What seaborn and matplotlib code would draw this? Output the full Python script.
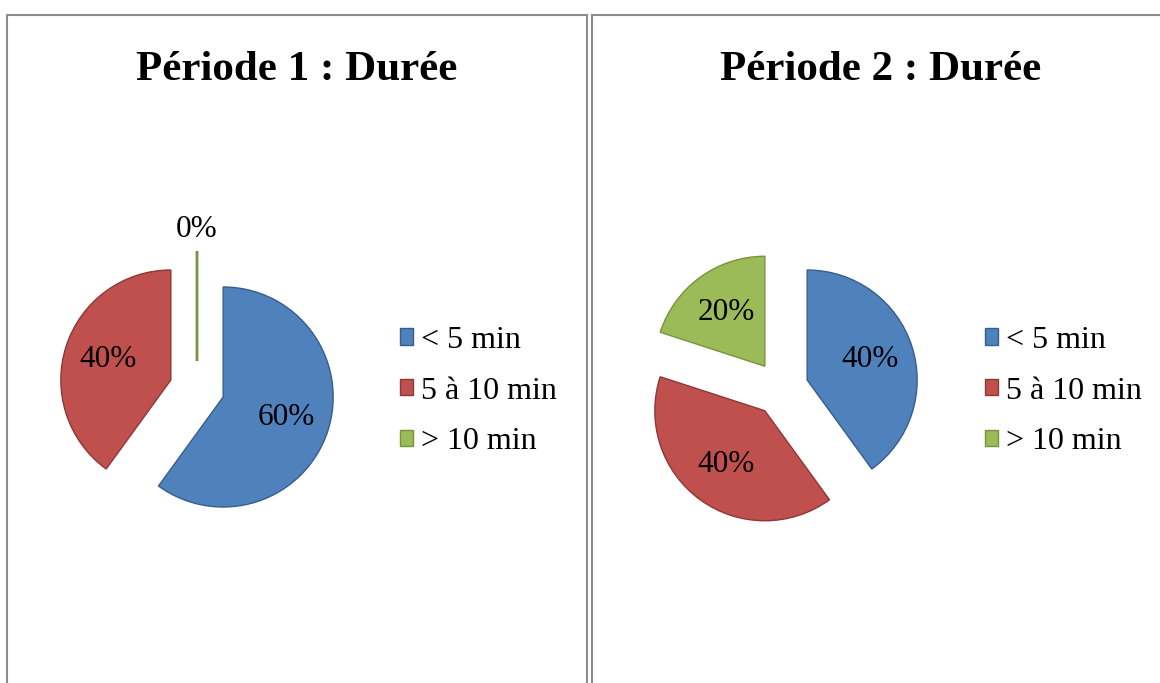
import matplotlib
matplotlib.use('Agg')
import matplotlib.pyplot as plt
from matplotlib.patches import Rectangle
import seaborn as sns

# -------------------------------------------------------
# data
# -------------------------------------------------------
categories = ['< 5 min', '5 à 10 min', '> 10 min']
periode1 = [60, 40, 0]
periode2 = [40, 40, 20]
titles = ['Période 1 : Durée', 'Période 2 : Durée']

sns.set_theme(style='white')
plt.rcParams['font.family'] = ['Liberation Serif', 'DejaVu Serif']
plt.rcParams['text.color'] = 'black'

face = sns.color_palette(['#4F81BD', '#C0504D', '#9BBB59'])
edge = sns.color_palette(['#385D8A', '#8C3836', '#77933C'])

W, H = 1160, 683
fig = plt.figure(figsize=(W / 100, H / 100), dpi=100)
fig.set_facecolor('white')

# panel frames (px): left, right
frames = [(7, 587), (592, 1175)]
for x0, x1 in frames:
    fig.patches.append(Rectangle((x0 / W, -0.05), (x1 - x0) / W, 1 - 15 / H + 0.05,
                                 transform=fig.transFigure, fill=False,
                                 edgecolor='#8c8c8c', linewidth=1.5))

centers = [197, 781]      # pie centre x (px)
cy = 388.5                # pie centre y (px, from top)
r = 110                   # radius in px
title_x = [297, 881]
legend_x = [400, 985]

for i, vals in enumerate([periode1, periode2]):
    half = 1.5 * r
    ax = fig.add_axes([(centers[i] - half) / W, (H - cy - half) / H, 2 * half / W, 2 * half / H])
    wedges, texts, autotexts = ax.pie(
        vals, startangle=90, counterclock=False, explode=[0.25] * 3,
        colors=face, autopct='%1.0f%%', pctdistance=0.6,
        wedgeprops=dict(linewidth=1.0),
        textprops=dict(fontsize=22.5, color='black'))
    for w, ec in zip(wedges, edge):
        w.set_edgecolor(ec)
    for t, v in zip(autotexts, vals):
        if v == 0:
            xx, yy = t.get_position()
            t.set_position((xx, yy + 0.6))
    ax.set_xlim(-1.5, 1.5)
    ax.set_ylim(-1.5, 1.5)
    ax.axis('off')

    fig.text(title_x[i] / W, 1 - 80 / H, titles[i], ha='center', va='baseline',
             fontsize=31, fontweight='bold', color='black')

    ax.legend(wedges, categories, loc='center left',
              bbox_to_anchor=(legend_x[i] / W, 1 - 391 / H), bbox_transform=fig.transFigure,
              frameon=False, fontsize=23, handlelength=0.42, handleheight=0.42,
              handletextpad=0.25, labelspacing=0.68, borderpad=0, borderaxespad=0)

    # zero-size slice: draw its radius line a bit thicker (after the legend copies the style)
    for w, v in zip(wedges, vals):
        if v == 0:
            w.set_linewidth(2)

fig.savefig('out.png', dpi=100)
